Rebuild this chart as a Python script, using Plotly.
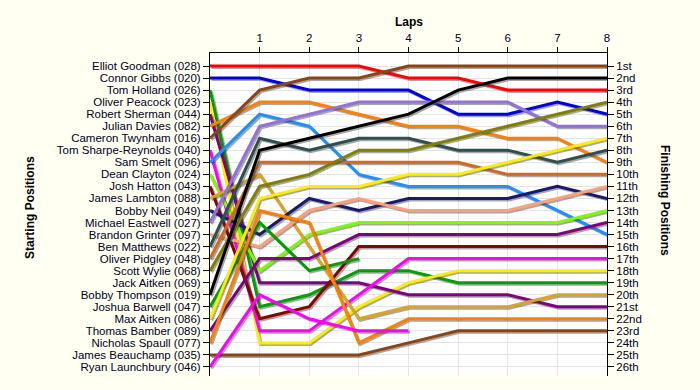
import plotly.graph_objects as go

laps = [0, 1, 2, 3, 4, 5, 6, 7, 8]

drivers = [
    "Elliot Goodman (028)", "Connor Gibbs (020)", "Tom Holland (026)", "Oliver Peacock (023)",
    "Robert Sherman (044)", "Julian Davies (082)", "Cameron Twynham (016)", "Tom Sharpe-Reynolds (040)",
    "Sam Smelt (096)", "Dean Clayton (024)", "Josh Hatton (043)", "James Lambton (088)",
    "Bobby Neil (049)", "Michael Eastwell (027)", "Brandon Grinter (097)", "Ben Matthews (022)",
    "Oliver Pidgley (048)", "Scott Wylie (068)", "Jack Aitken (069)", "Bobby Thompson (019)",
    "Joshua Barwell (047)", "Max Aitken (086)", "Thomas Bamber (089)", "Nicholas Spaull (077)",
    "James Beauchamp (035)", "Ryan Launchbury (046)",
]

finish_labels = ["1st", "2nd", "3rd", "4th", "5th", "6th", "7th", "8th", "9th", "10th", "11th", "12th",
                 "13th", "14th", "15th", "16th", "17th", "18th", "19th", "20th", "21st", "22nd", "23rd",
                 "24th", "25th", "26th"]

# positions per lap (lap 0 = grid)
pos_goodman = [1, 1, 1, 1, 2, 2, 3, 3, 3]
pos_gibbs = [2, 2, 3, 3, 3, 5, 5, 4, 5]
pos_holland = [3, 21, 20, 18, 18, 19, 19, 19, 19]
pos_peacock = [4, 24, 24, 21, 19, 18, 18, 18, 18]
pos_sherman = [5, 19, 19, 19, 20, 20, 20, 21, 21]
pos_davies = [6, 4, 4, 5, 6, 6, 7, 7, 9]
pos_twynham = [7, 3, 2, 2, 1, 1, 1, 1, 1]
pos_sharpe = [8, 23, 23, 20, 17, 17, 17, 17, 17]
pos_smelt = [9, 5, 6, 10, 11, 11, 11, 13, 15]
pos_clayton = [10, 18, 15, 14, 14, 14, 14, 14, 13]
pos_hatton = [11, 22, 21, 16, 16, 16, 16, 16, 16]
pos_lambton = [12, 10, 16, 22, 21, 21, 21, 20, 20]
pos_neil = [13, 15, 12, 13, 12, 12, 12, 11, 12]
pos_eastwell = [14, 6, 5, 4, 4, 4, 4, 6, 6]
pos_grinter = [15, 16, 13, 12, 13, 13, 13, 12, 11]
pos_matthews = [16, 7, 8, 7, 7, 8, 8, 9, 8]
pos_pidgley = [17, 9, 9, 9, 9, 9, 10, 10, 10]
pos_wylie = [18, 11, 10, 8, 8, 7, 6, 5, 4]
pos_jaitken = [19]
pos_thompson = [20, 8, 7, 6, 5, 3, 2, 2, 2]
pos_barwell = [21, 14, 18, 17]
pos_maitken = [22, 12, 11, 11, 10, 10, 9, 8, 7]
pos_bamber = [23, 17, 17, 15, 15, 15, 15, 15, 14]
pos_spaull = [24, 13, 14, 24, 22, 22, 22, 22, 22]
pos_beauchamp = [25, 25, 25, 25, 24, 23, 23, 23, 23]
pos_launchbury = [26, 20, 22, 23, 23]

series = [
    (pos_goodman, "#FF0000"), (pos_gibbs, "#0000DD"), (pos_holland, "#00A000"),
    (pos_peacock, "#FFEE00"), (pos_sherman, "#800080"), (pos_davies, "#FF8000"),
    (pos_twynham, "#8B4513"), (pos_sharpe, "#FF00FF"), (pos_smelt, "#1E90FF"),
    (pos_clayton, "#7CFC00"), (pos_hatton, "#8B0000"), (pos_lambton, "#DAA520"),
    (pos_neil, "#191970"), (pos_eastwell, "#9370DB"), (pos_grinter, "#FFA07A"),
    (pos_matthews, "#2F4F4F"), (pos_pidgley, "#D2691E"), (pos_wylie, "#808000"),
    (pos_jaitken, "#000000"), (pos_thompson, "#000000"), (pos_barwell, "#00A000"),
    (pos_maitken, "#FFEE00"), (pos_bamber, "#800080"), (pos_spaull, "#FF8000"),
    (pos_beauchamp, "#8B4513"), (pos_launchbury, "#FF00FF"),
]

L, R, T, B = 210, 93, 53, 14
plot_w = 700 - L - R
plot_h = 390 - T - B
x_range = [0, 8]
y_range = [26.75, -0.08]
# drop-shadow offset of 1.5 px, converted to data units
sdx = 1.5 * (x_range[1] - x_range[0]) / plot_w
sdy = 1.5 * (y_range[0] - y_range[1]) / plot_h

fig = go.Figure()
for (pos, col), name in zip(series, drivers):
    xs = laps[:len(pos)]
    fig.add_trace(go.Scatter(
        x=[v + sdx for v in xs], y=[v + sdy for v in pos], mode="lines",
        line=dict(color="rgba(60,60,60,0.45)", width=3), showlegend=False, hoverinfo="skip",
    ))
    fig.add_trace(go.Scatter(
        x=xs, y=pos, mode="lines", name=name,
        line=dict(color=col, width=3), showlegend=False, hoverinfo="skip",
    ))

rows = list(range(1, 27))
# invisible trace to anchor the right-hand axis
fig.add_trace(go.Scatter(x=[8] * 26, y=rows, yaxis="y2", mode="markers",
                         marker=dict(opacity=0), showlegend=False, hoverinfo="skip"))

font = dict(family="Liberation Sans, Arial, sans-serif", size=11.5, color="#000022")
grid = "#E4E4E4"
title_font = dict(family="Liberation Sans, Arial", size=12, color="black")

fig.update_layout(
    width=700, height=390,
    margin=dict(l=L, r=R, t=T, b=B, autoexpand=False),
    paper_bgcolor="#FFFFF2",
    plot_bgcolor="#FFFFFF",
    font=font,
    xaxis=dict(
        side="top", range=x_range, tickvals=list(range(1, 9)), ticktext=[str(i) for i in range(1, 9)],
        ticks="outside", ticklen=5, tickcolor="black", showline=True, linecolor="black", linewidth=1,
        showgrid=True, gridcolor=grid, zeroline=False, automargin=False,
    ),
    yaxis=dict(
        range=y_range, tickvals=rows, ticktext=drivers,
        ticks="outside", ticklen=6, tickcolor="black", showline=True, linecolor="black", linewidth=1,
        showgrid=True, gridcolor=grid, zeroline=False, automargin=False,
    ),
    yaxis2=dict(
        overlaying="y", side="right", range=y_range, tickvals=rows, ticktext=finish_labels,
        ticks="outside", ticklen=6, tickcolor="black", showline=True, linecolor="black", linewidth=1,
        showgrid=False, zeroline=False, automargin=False,
    ),
    annotations=[
        dict(text="<b>Laps</b>", x=0.5, y=1, xref="paper", yref="paper", yanchor="middle",
             xanchor="center", yshift=31, showarrow=False, font=title_font),
        dict(text="<b>Starting Positions</b>", x=(30 - L) / plot_w, y=(390 - B - 208) / plot_h,
             xref="paper", yref="paper", xanchor="center", yanchor="middle", showarrow=False,
             textangle=-90, font=title_font),
        dict(text="<b>Finishing Positions</b>", x=(665 - L) / plot_w, y=(390 - B - 200) / plot_h,
             xref="paper", yref="paper", xanchor="center", yanchor="middle", showarrow=False,
             textangle=90, font=title_font),
    ],
)

fig.write_html("out.html", config={"displayModeBar": False},
               post_script="document.body.style.margin='0';")
